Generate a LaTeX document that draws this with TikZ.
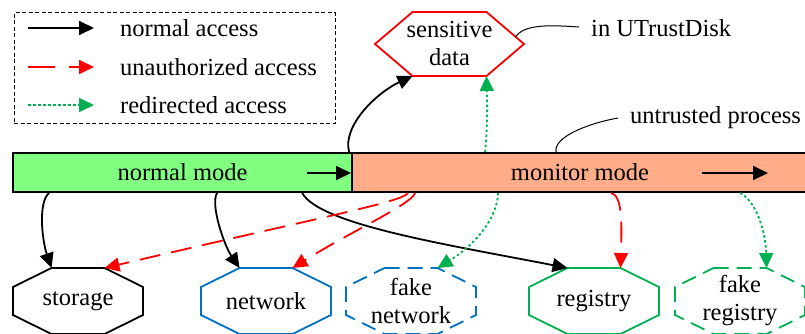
\documentclass[tikz,border=0pt]{standalone}
\usepackage{fontspec}
\setmainfont{Liberation Serif}
\usetikzlibrary{arrows.meta,calc}

\definecolor{modegreen}{HTML}{80FF80}
\definecolor{modeorange}{HTML}{FFAD88}
\definecolor{netblue}{HTML}{0070C0}
\definecolor{regrgreen}{HTML}{00B050}
\definecolor{redirgreen}{HTML}{00B050}

\tikzset{
  txt/.style={font=\fontsize{24.5}{28}\selectfont, inner sep=0pt, align=center},
  tip/.style={-{Triangle[length=15pt,width=14pt]}},
  normalacc/.style={tip, line width=1.8pt, black},
  unauthacc/.style={tip, line width=1.8pt, red, dash pattern=on 21pt off 11pt},
  rediracc/.style={tip, line width=1.8pt, redirgreen, dash pattern=on 2.5pt off 2.5pt},
  note/.style={line width=1pt, black},
  modebox/.style={draw=black, line width=1.8pt, minimum height=39pt, inner sep=0pt,
    font=\fontsize{24.5}{28}\selectfont},
  octbox/.style={txt, minimum width=130pt, minimum height=66pt},
  octline/.style={line width=1.8pt}
}

% octagon: name, centre, line style, text
\newcommand\octnode[4]{%
  \node[octbox] (#1) at (#2) {#4};
  \draw[octline,#3] ($(#1.center)+(-26.5,-33)$) -- ($(#1.center)+(26.5,-33)$)
    -- ($(#1.center)+(65,-14)$) -- ($(#1.center)+(65,14)$)
    -- ($(#1.center)+(26.5,33)$) -- ($(#1.center)+(-26.5,33)$)
    -- ($(#1.center)+(-65,14)$) -- ($(#1.center)+(-65,-14)$) -- cycle;
  \coordinate (#1-tl) at ($(#1.center)+(-26.5,-33)$);
  \coordinate (#1-tr) at ($(#1.center)+(26.5,-33)$);
}

\begin{document}
\begin{tikzpicture}[x=1pt,y=-1pt]
\useasboundingbox (0,0) rectangle (805,333);

% legend
\node[draw, line width=0.8pt, dash pattern=on 4pt off 2.5pt, minimum width=321pt,
  minimum height=111pt, inner sep=0pt] (lg) at (174.5,68) {};
\coordinate (la1) at (28,28);  \coordinate (lb1) at (94,28);
\coordinate (la2) at (28,67);  \coordinate (lb2) at (94,67);
\coordinate (la3) at (28,105); \coordinate (lb3) at (94,105);
\draw[normalacc] (la1) -- (lb1);
\draw[unauthacc, dash pattern=on 27pt off 14pt] (la2) -- (lb2);
\draw[rediracc] (la3) -- (lb3);
\node[txt, anchor=west] (lt1) at (120,28) {normal access};
\node[txt, anchor=west] (lt2) at (120,67) {unauthorized access};
\node[txt, anchor=west] (lt3) at (120,105) {redirected access};

% process modes
\node[modebox, fill=modegreen, minimum width=339pt] (nm) at (182.5,172.5) {normal mode};
\node[modebox, fill=modeorange, minimum width=456pt] (mm) at (580,172.5) {monitor mode};
\coordinate (nmarrA) at (307,173); \coordinate (nmarrB) at (351,173);
\coordinate (mmarrA) at (702,173); \coordinate (mmarrB) at (768,173);
\draw[normalacc] (nmarrA) -- (nmarrB);
\draw[normalacc] (mmarrA) -- (mmarrB);

% sensitive data
\node[txt] (sd) at (449.5,44) {sensitive\\data};
\draw[octline, red] ($(sd.center)+(-74.5,0)$) -- ($(sd.center)+(-37,-32)$)
  -- ($(sd.center)+(37,-32)$) -- ($(sd.center)+(74.5,0)$)
  -- ($(sd.center)+(37,32)$) -- ($(sd.center)+(-37,32)$) -- cycle;
\coordinate (sd-bl) at ($(sd.center)+(-37,32)$);
\coordinate (sd-br) at ($(sd.center)+(37,32)$);
\coordinate (sd-ne) at ($(sd.center)+(66,-7)$);

% notes
\node[txt, anchor=west] (ut) at (591,28) {in UTrustDisk};
\node[txt, anchor=west] (up) at (630,118) {untrusted process};
\draw[note] (sd-ne) .. controls (524,24) and (550,25) .. ($(ut.west)+(-12,-1)$);
\coordinate (upfoot) at ($(mm.north west)+(205,0)$);
\draw[note] (upfoot) .. controls (553,138) and (585,124) .. ($(up.west)+(-12,0)$);

% resources
\octnode{st}{78,301}{black}{storage}
\octnode{nw}{266,301}{netblue}{network}
\octnode{fn}{411,301}{netblue, dash pattern=on 15pt off 8pt}{fake\\network}
\octnode{rg}{594,301}{regrgreen}{registry}
\octnode{fr}{740,301}{regrgreen, dash pattern=on 15pt off 8pt}{fake\\registry}

% connector feet on the mode bar
\coordinate (f-st) at ($(nm.south west)+(37,0)$);
\coordinate (f-nw) at ($(nm.south west)+(205,0)$);
\coordinate (f-rg) at ($(nm.south west)+(290,0)$);
\coordinate (f-ust) at ($(mm.south west)+(57,0)$);
\coordinate (f-unw) at ($(mm.south west)+(64,0)$);
\coordinate (f-urg) at ($(mm.south west)+(260,0)$);
\coordinate (f-fn) at ($(mm.south west)+(147,0)$);
\coordinate (f-fr) at ($(mm.south west)+(389,0)$);
\coordinate (f-sd) at ($(mm.north west)+(-2,0)$);
\coordinate (f-rsd) at ($(mm.north west)+(134,0)$);

% accesses
\draw[normalacc] (f-st) .. controls (38,202) and (42,240) .. (st-tl);
\draw[normalacc] (f-nw) .. controls (210,204) and (224,245) .. (nw-tl);
\draw[normalacc] (f-rg) .. controls (320,225) and (450,245) .. (rg-tl);
\draw[normalacc] (f-sd) .. controls (342,125) and (378,92) .. (sd-bl);
\draw[unauthacc] (f-ust) .. controls (402,202) and (330,215) .. (st-tr);
\draw[unauthacc] (f-unw) .. controls (412,204) and (350,232) .. (nw-tr);
\draw[unauthacc] (f-urg) .. controls (622,196) and (622,220) .. (rg-tr);
\draw[rediracc] (f-fn) .. controls (497,222) and (470,248) .. (fn-tr);
\draw[rediracc] (f-fr) .. controls (760,204) and (766,240) .. (fr-tr);
\draw[rediracc] (f-rsd) .. controls (488,122) and (487,100) .. (sd-br);
\end{tikzpicture}
\end{document}
